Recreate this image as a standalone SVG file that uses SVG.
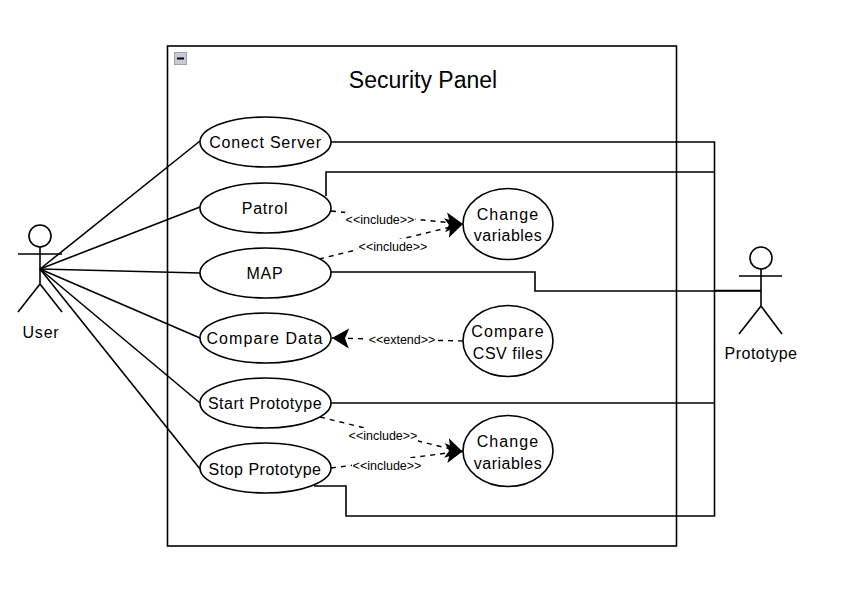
<svg xmlns="http://www.w3.org/2000/svg" width="849" height="606" viewBox="0 0 849 606">
<style>
text{font-family:"Liberation Sans",Arial,sans-serif;fill:#000;text-anchor:middle}
.n{font-size:16px;letter-spacing:.8px}
.t{font-size:16px;letter-spacing:1.1px}
.p{font-size:16px;letter-spacing:.5px}
.l{font-size:12.500px}
.s{fill:#fff;stroke:#000;stroke-width:1.6}
.c{fill:none;stroke:#000;stroke-width:1.6}
.d{fill:none;stroke:#000;stroke-width:1.4;stroke-dasharray:5 5}
.a{fill:none;stroke:#000;stroke-width:1.6}
.bg{fill:#fff;stroke:none}
</style>
<defs>
<marker id="arrow" markerUnits="userSpaceOnUse" markerWidth="20" markerHeight="24" refX="17" refY="11" orient="auto">
<path d="M0 1L17 11L0 21L4 11Z" fill="#000"/>
</marker>
</defs>
<rect width="849" height="606" fill="#fff"/>
<g id="panel">
<rect x="167.500" y="46" width="509" height="500" fill="#fff" stroke="#000" stroke-width="1.6"/>
<rect x="174.500" y="52.500" width="12" height="12" fill="#c4cad6" stroke="#9aa1b0"/>
<rect x="177" y="57.500" width="7" height="2" fill="#000"/>
<text x="423" y="88" style="font-size:23px">Security Panel</text>
</g>
<g id="connectors">
<path class="c" d="M40 269L200 141"/>
<path class="c" d="M40 269L200 207"/>
<path class="c" d="M40 269L200 273"/>
<path class="c" d="M40 269L200 338"/>
<path class="c" d="M40 269L200 403"/>
<path class="c" d="M40 269L200 469"/>
<path class="c" d="M331 142H714.500V516H346V486H314"/>
<path class="c" d="M326 196V172H714.500"/>
<path class="c" d="M331 272H535V291H761"/>
<path class="c" d="M331 403H714.500"/>
<path class="c" d="M714.500 290.500H761" stroke-width="2.200"/>
<path class="d" d="M331 211L463 224" marker-end="url(#arrow)"/>
<path class="d" d="M319 259L463 224" marker-end="url(#arrow)"/>
<path class="d" d="M463 341L332 338" marker-end="url(#arrow)"/>
<path class="d" d="M320 417L463 452" marker-end="url(#arrow)"/>
<path class="d" d="M331 468L463 451" marker-end="url(#arrow)"/>
<rect class="bg" x="345" y="212" width="70" height="15"/>
<rect class="bg" x="358" y="239" width="70" height="15"/>
<rect class="bg" x="366" y="332" width="72" height="15"/>
<rect class="bg" x="348" y="428" width="70" height="15"/>
<rect class="bg" x="352" y="458" width="70" height="15"/>
<text class="l" x="380" y="224">&lt;&lt;include&gt;&gt;</text>
<text class="l" x="393" y="251">&lt;&lt;include&gt;&gt;</text>
<text class="l" x="402" y="344">&lt;&lt;extend&gt;&gt;</text>
<text class="l" x="383" y="440">&lt;&lt;include&gt;&gt;</text>
<text class="l" x="387" y="470">&lt;&lt;include&gt;&gt;</text>
</g>
<g id="user">
<circle class="a" cx="40" cy="236" r="11"/>
<path class="a" d="M40 247V284M18 254H62M40 284L18 312M40 284L62 312"/>
<text class="n" x="41" y="338">User</text>
</g>
<g id="prototype">
<circle class="a" cx="761" cy="258" r="11"/>
<path class="a" d="M761 269V306M739 276H782M761 306L739 334M761 306L782 334"/>
<text class="p" x="761" y="359">Prototype</text>
</g>
<g id="conect-server"><ellipse class="s" cx="265.500" cy="142" rx="65.500" ry="25"/><text class="n" x="265.500" y="148">Conect Server</text></g>
<g id="patrol"><ellipse class="s" cx="265.500" cy="208" rx="65.500" ry="25"/><text class="n" x="265" y="214">Patrol</text></g>
<g id="map"><ellipse class="s" cx="265.500" cy="273" rx="65.500" ry="25"/><text class="n" x="265" y="279">MAP</text></g>
<g id="compare-data"><ellipse class="s" cx="265.500" cy="338" rx="65.500" ry="25"/><text class="t" x="265" y="344">Compare Data</text></g>
<g id="start-prototype"><ellipse class="s" cx="265.500" cy="403" rx="65.500" ry="25"/><text class="p" x="265" y="409">Start Prototype</text></g>
<g id="stop-prototype"><ellipse class="s" cx="265.500" cy="468" rx="65.500" ry="25"/><text class="p" x="265" y="475">Stop Prototype</text></g>
<g id="change-variables-1"><ellipse class="s" cx="508" cy="224" rx="45" ry="35.500"/><text class="t" x="508" y="220">Change</text><text class="p" x="508" y="241">variables</text></g>
<g id="compare-csv-files"><ellipse class="s" cx="508" cy="341" rx="45" ry="35.500"/><text class="t" x="508" y="337">Compare</text><text class="p" x="508" y="359">CSV files</text></g>
<g id="change-variables-2"><ellipse class="s" cx="508" cy="451" rx="45" ry="35.500"/><text class="t" x="508" y="447">Change</text><text class="p" x="508" y="469">variables</text></g>
</svg>
